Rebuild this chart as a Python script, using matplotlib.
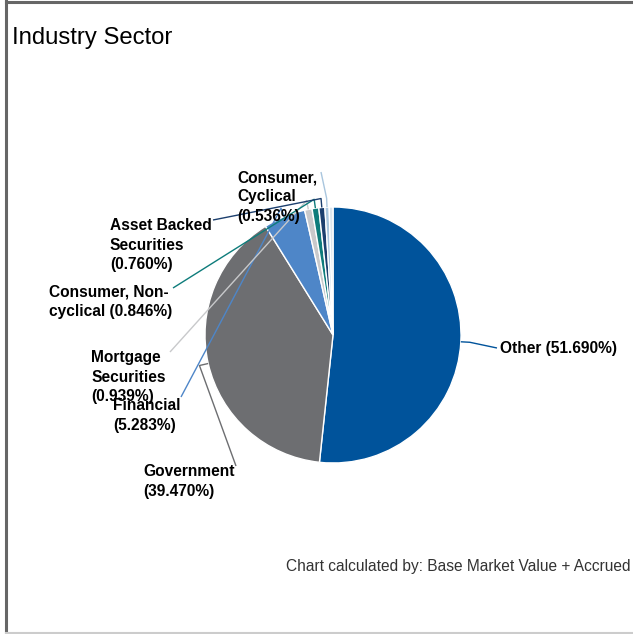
import numpy as np
import matplotlib
matplotlib.use("Agg")
import matplotlib.pyplot as plt

# ---- data ----
categories = ["Other", "Government", "Financial", "Mortgage Securities",
              "Consumer, Non-cyclical", "Asset Backed Securities",
              "Consumer, Cyclical", ""]
values = [51.690, 39.470, 5.283, 0.939, 0.846, 0.760, 0.536, 0.476]
label_texts = ["Other (51.690%)", "Government\n(39.470%)", "Financial\n(5.283%)",
               "Mortgage\nSecurities\n(0.939%)", "Consumer, Non-\ncyclical (0.846%)",
               "Asset Backed\nSecurities\n(0.760%)", "Consumer,\nCyclical\n(0.536%)", None]
colors = ["#00539b", "#6d6e71", "#4e86c8", "#c8c9cb", "#0e7c7b", "#1c3f6e",
          "#a9c6de", "#dbe4ec"]

W, H = 633, 634
fig = plt.figure(figsize=(W / 100, H / 100), dpi=100)
ax = fig.add_axes([0, 0, 1, 1])

def Y(y):
    return H - y

cx, cy, R = 333, Y(335), 128
wedges, _ = ax.pie(values, colors=colors, startangle=90, counterclock=False,
                   center=(cx, cy), radius=R, frame=True,
                   wedgeprops=dict(edgecolor="white", linewidth=1.0))
ax.set_xlim(0, W)
ax.set_ylim(0, H)
ax.set_aspect("equal")
ax.axis("off")

# label layout (pixel coords from top-left): text left x, block center y, connector anchor
layout = {
    0: dict(tx=500, ty=348, ax_=(497, 348)),
    1: dict(tx=143, ty=481.5, ax_=(236, 466)),
    2: dict(tx=113, ty=415.5, ax_=(181, 397)),
    3: dict(tx=91, ty=377, ax_=(170, 352)),
    4: dict(tx=49, ty=301.5, ax_=(173, 288)),
    5: dict(tx=110, ty=245, ax_=(213, 220)),
    6: dict(tx=237, ty=197, ax_=(321, 172)),
}

font = ["Liberation Sans", "DejaVu Sans"]
for i, w in enumerate(wedges):
    if label_texts[i] is None:
        continue
    th = np.deg2rad((w.theta1 + w.theta2) / 2)
    ex, ey = cx + R * np.cos(th), cy + R * np.sin(th)
    elx, ely = cx + (R + 9) * np.cos(th), cy + (R + 9) * np.sin(th)
    L = layout[i]
    axx, axy = L["ax_"]
    ax.plot([ex, elx, axx], [ey, ely, Y(axy)], color=colors[i], lw=1.0,
            solid_capstyle="butt", zorder=5)
    ax.text(L["tx"], Y(L["ty"]), label_texts[i], ha="left", va="center",
            fontsize=11.2, fontweight="bold", family=font, color="black",
            linespacing=1.36, zorder=6)

ax.text(12, Y(38), "Industry Sector", ha="left", va="center", fontsize=17.2,
        family=font, color="black")
ax.text(630, Y(567), "Chart calculated by: Base Market Value + Accrued",
        ha="right", va="center", fontsize=11.2, family=font, color="#333333")

# frame
ax.plot([5.5, 5.5], [0, H], color="#666666", lw=2.2, zorder=10)
ax.plot([5.5, W], [Y(1.5), Y(1.5)], color="#666666", lw=2.2, zorder=10)
ax.plot([5.5, W], [Y(632.5), Y(632.5)], color="#cccccc", lw=1.5, zorder=10)

fig.savefig("out.png", dpi=100)
